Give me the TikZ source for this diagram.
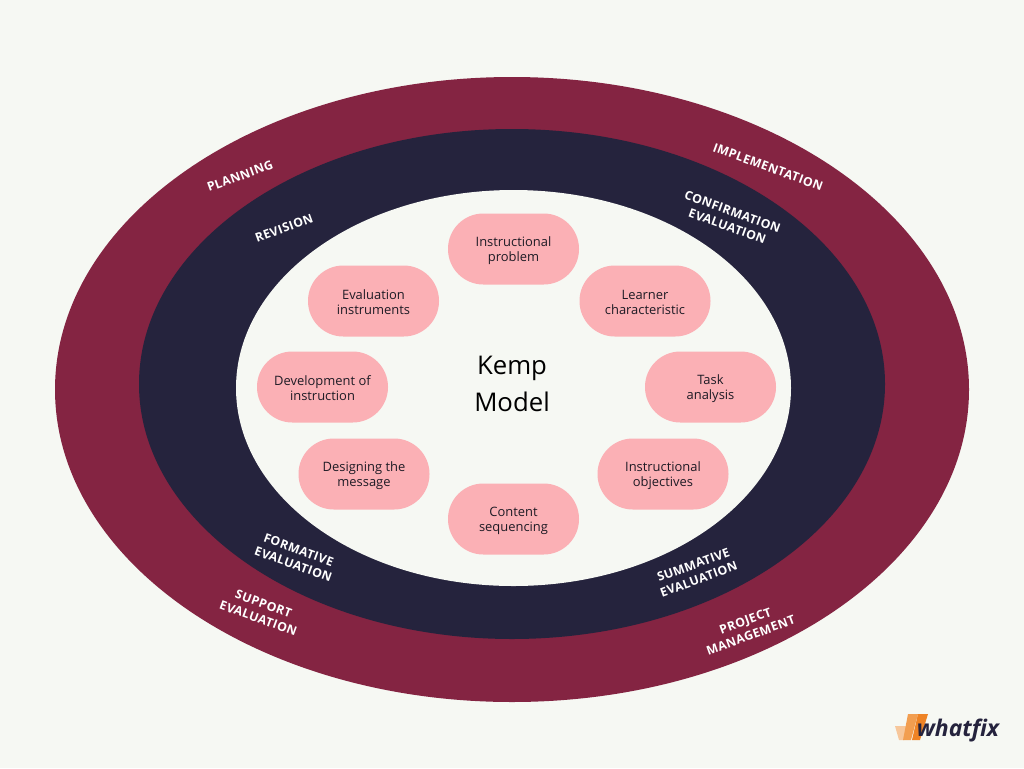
\documentclass[tikz,border=0pt]{standalone}
\usepackage{fontspec}
\setmainfont{Open Sans}
\newfontfamily\lblfont[LetterSpace=3.5]{Open Sans}
\newcommand{\pushdown}{\rule{0pt}{9.6pt}}
\definecolor{bgc}{HTML}{F6F8F3}
\definecolor{wine}{HTML}{842442}
\definecolor{navy}{HTML}{25233D}
\definecolor{pinkc}{HTML}{FBB0B5}
\definecolor{inkc}{HTML}{1E1B25}
\definecolor{orA}{HTML}{EE8325}
\definecolor{orM}{HTML}{F29E50}
\definecolor{orB}{HTML}{F7C79B}
\tikzset{
  pill/.style={fill=pinkc,rounded corners=26.5pt,minimum width=98.25pt,minimum height=53.25pt,inner sep=0pt,align=center,text=inkc,font=\fontsize{9.7}{11.25}\selectfont},
  ring/.style={font=\lblfont\bfseries\fontsize{9.2}{11.6}\selectfont,align=center,text=white,inner sep=0pt},
}
\begin{document}
\begin{tikzpicture}[x=0.75pt,y=-0.75pt]
\useasboundingbox (0,0) rectangle (1024,768);
\fill[bgc] (0,0) rectangle (1024,768);
\fill[wine] (512,389.5) ellipse [x radius=457,y radius=312.5];
\fill[navy] (512,384) ellipse [x radius=373,y radius=255];
\fill[bgc] (513.5,388) ellipse [x radius=277.5,y radius=198];
\node[pill] (p1) at (513.5,249) {\pushdown Instructional\\problem};
\node[pill] (p2) at (645,301) {\pushdown Learner\\characteristic};
\node[pill] (p3) at (710.5,387) {\pushdown Task\\analysis};
\node[pill] (p4) at (663,474) {\pushdown Instructional\\objectives};
\node[pill] (p5) at (513.5,519) {\pushdown Content\\sequencing};
\node[pill] (p6) at (364,474) {\pushdown Designing the\\message};
\node[pill] (p7) at (322.5,387) {\pushdown Development of\\instruction};
\node[pill] (p8) at (373.5,301) {\pushdown Evaluation\\instruments};
\node[align=center,text=black,font=\fontsize{19.3}{27.5}\selectfont] (kemp) at (512,384) {Kemp\\Model};
\node[ring,rotate=20] (l1) at (240,176) {PLANNING};
\node[ring,rotate=20] (l2) at (284,228) {REVISION};
\node[ring,rotate=-20] (l3) at (768,167) {IMPLEMENTATION};
\node[ring,rotate=-20] (l4) at (730,219) {CONFIRMATION\\EVALUATION};
\node[ring,rotate=20] (l5) at (696,572) {SUMMATIVE\\EVALUATION};
\node[ring,rotate=20] (l6) at (748,628) {PROJECT\\MANAGEMENT};
\node[ring,rotate=-20] (l7) at (296,557) {FORMATIVE\\EVALUATION};
\node[ring,rotate=-20] (l8) at (261,611) {SUPPORT\\EVALUATION};
% logo
\fill[orB] (895,726) -- (906,726) -- (904,740) -- (899,740) -- cycle;
\fill[orM] (908,714) -- (918,714) -- (911,740) -- (903,740) -- cycle;
\fill[orA] (918,714) -- (928,714) -- (920,740) -- (912,740) -- cycle;
\node[text=navy,font=\bfseries\itshape\fontsize{17.2}{17}\selectfont,inner sep=0pt] (logo) at (958,730) {whatfix};
\end{tikzpicture}
\end{document}
